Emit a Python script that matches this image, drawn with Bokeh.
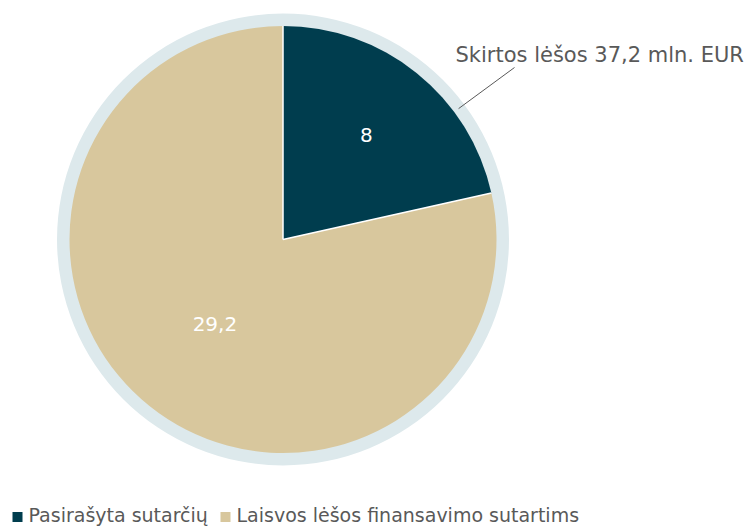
import math
from bokeh.plotting import figure
from bokeh.models import Range1d
from bokeh.core.properties import value
from bokeh.embed import file_html
from bokeh.resources import INLINE

categories = ["Pasirašyta sutarčių", "Laisvos lėšos finansavimo sutartims"]
values = [8, 29.2]
value_labels = ["8", "29,2"]
colors = ["#003d4e", "#d8c79d"]
total_label = "Skirtos lėšos 37,2 mln. EUR"

FONT = "DejaVu Sans"
W, H = 748, 526
p = figure(width=W, height=H, output_backend="svg", toolbar_location=None,
           x_range=Range1d(0, W), y_range=Range1d(0, H), min_border=0)
p.axis.visible = False
p.grid.visible = False
p.outline_line_color = None
p.background_fill_color = "white"

cx, cy = 282.5, 287
R = 213.5
ring_R = 226

p.circle(x=[cx], y=[cy], radius=ring_R, fill_color="#dde9ec", line_color=None)

total = sum(values)
starts, ends = [], []
acc = 0.0
for v in values:
    starts.append(math.pi / 2 - 2 * math.pi * acc / total)
    acc += v
    ends.append(math.pi / 2 - 2 * math.pi * acc / total)

p.wedge(x=[cx] * len(values), y=[cy] * len(values), radius=R,
        start_angle=starts, end_angle=ends, direction="clock",
        fill_color=colors, line_color=None)

# separators
xs0, ys0, xs1, ys1 = [], [], [], []
for a in starts:
    xs0.append(cx); ys0.append(cy)
    xs1.append(cx + R * math.cos(a)); ys1.append(cy + R * math.sin(a))
p.segment(x0=xs0, y0=ys0, x1=xs1, y1=ys1, line_color="white", line_width=1.5)

# value labels
label_r = [0.625, 0.51]
lx, ly = [], []
for s, e, fr in zip(starts, ends, label_r):
    m = (s + e) / 2
    lx.append(cx + fr * R * math.cos(m))
    ly.append(cy + fr * R * math.sin(m))
p.text(x=lx, y=ly, text=value_labels, text_color="white",
       text_font=value(FONT), text_font_size="20px",
       text_align="center", text_baseline="middle")

# total annotation with leader line
a_lead = math.pi / 2 - math.radians(53.3)
p.segment(x0=[cx + 219 * math.cos(a_lead)], y0=[cy + 219 * math.sin(a_lead)],
          x1=[514], y1=[459], line_color="#595959", line_width=1)
p.text(x=[455], y=[472], text=[total_label], text_color="#595959",
       text_font=value(FONT), text_font_size="21px",
       text_align="left", text_baseline="middle")

# legend
leg_x = [17, 225]
p.scatter(x=leg_x, y=[9.5, 9.5], marker="square", size=10,
          fill_color=colors, line_color=None)
p.text(x=[x + 11 for x in leg_x], y=[12, 12], text=categories, text_color="#595959",
       text_font=value(FONT), text_font_size="19px",
       text_align="left", text_baseline="middle")

open("out.html", "w").write(file_html(p, INLINE))
